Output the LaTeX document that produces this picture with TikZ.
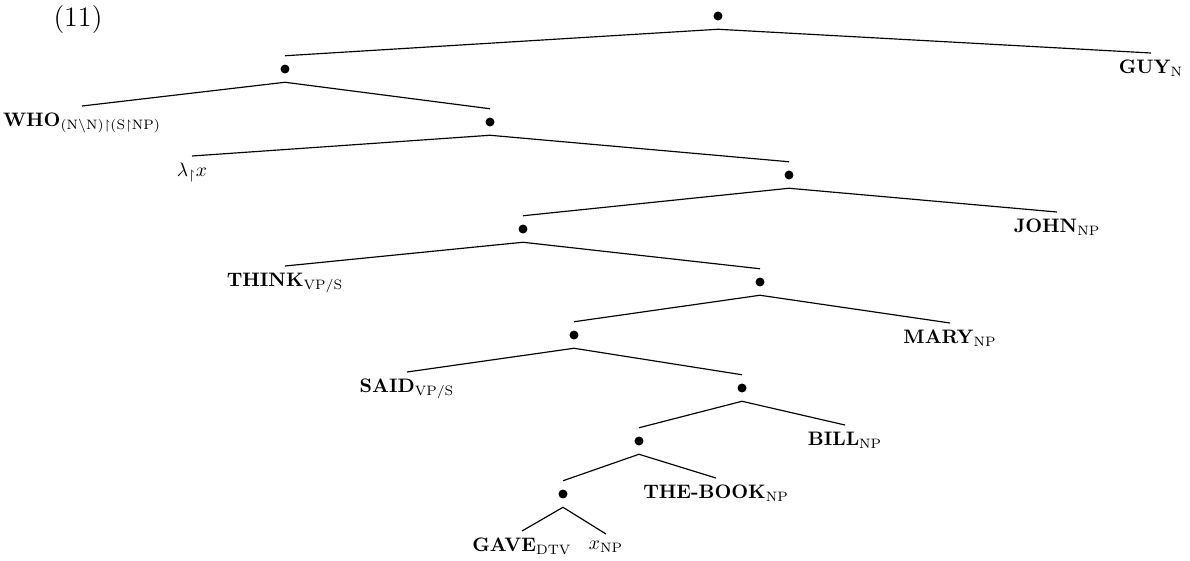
\documentclass[tikz,border=0pt]{standalone}
\usepackage{amssymb}
\begin{document}
\begin{tikzpicture}[x=0.513pt, y=-0.513pt,
  dot/.style={circle, fill=black, inner sep=0pt, minimum size=4.6pt, outer sep=4.5pt},
  leaf/.style={anchor=north, inner sep=3.3pt},
  branch/.style={line width=0.6pt}]
\useasboundingbox (0,0) rectangle (1190,560);

% example number
\node[font=\Large] (num) at (78,19) {(11)};

% internal nodes (bullets)
\node[dot] (r)  at (718,16) {};
\node[dot] (d1) at (285,69) {};
\node[dot] (d2) at (490,122) {};
\node[dot] (d3) at (789,175) {};
\node[dot] (d4) at (523,229) {};
\node[dot] (d5) at (760,282) {};
\node[dot] (d6) at (574,335) {};
\node[dot] (d7) at (742,388) {};
\node[dot] (d8) at (639,441) {};
\node[dot] (d9) at (563,494) {};

% leaves
\node[leaf] (guy)   at (1151,53) {\textbf{GUY}$_{\mathrm{N}}$};
\node[leaf] (who)   at (82,106)  {\textbf{WHO}$_{\mathrm{(N\backslash N)\upharpoonright(S\upharpoonright NP)}}$};
\node[leaf] (lam)   at (192,156) {$\lambda_{\upharpoonright}x$};
\node[leaf] (john)  at (1057,212) {\textbf{JOHN}$_{\mathrm{NP}}$};
\node[leaf] (think) at (285,266) {\textbf{THINK}$_{\mathrm{VP/S}}$};
\node[leaf] (mary)  at (950,323) {\textbf{MARY}$_{\mathrm{NP}}$};
\node[leaf] (said)  at (407,372) {\textbf{SAID}$_{\mathrm{VP/S}}$};
\node[leaf] (bill)  at (845,425) {\textbf{BILL}$_{\mathrm{NP}}$};
\node[leaf] (book)  at (716,478) {\textbf{THE-BOOK}$_{\mathrm{NP}}$};
\node[leaf] (gave)  at (522,531) {\textbf{GAVE}$_{\mathrm{DTV}}$};
\node[leaf] (xnp)   at (606,534) {$x_{\mathrm{NP}}$};

% branches
\draw[branch] (d1.north) -- (r.south) -- (guy.north);
\draw[branch] (who.north) -- (d1.south) -- (d2.north);
\draw[branch] (lam.north) -- (d2.south) -- (d3.north);
\draw[branch] (d4.north) -- (d3.south) -- (john.north);
\draw[branch] (think.north) -- (d4.south) -- (d5.north);
\draw[branch] (d6.north) -- (d5.south) -- (mary.north);
\draw[branch] (said.north) -- (d6.south) -- (d7.north);
\draw[branch] (d8.north) -- (d7.south) -- (bill.north);
\draw[branch] (d9.north) -- (d8.south) -- (book.north);
\draw[branch] (gave.north) -- (d9.south) -- (xnp.north);
\end{tikzpicture}
\end{document}
